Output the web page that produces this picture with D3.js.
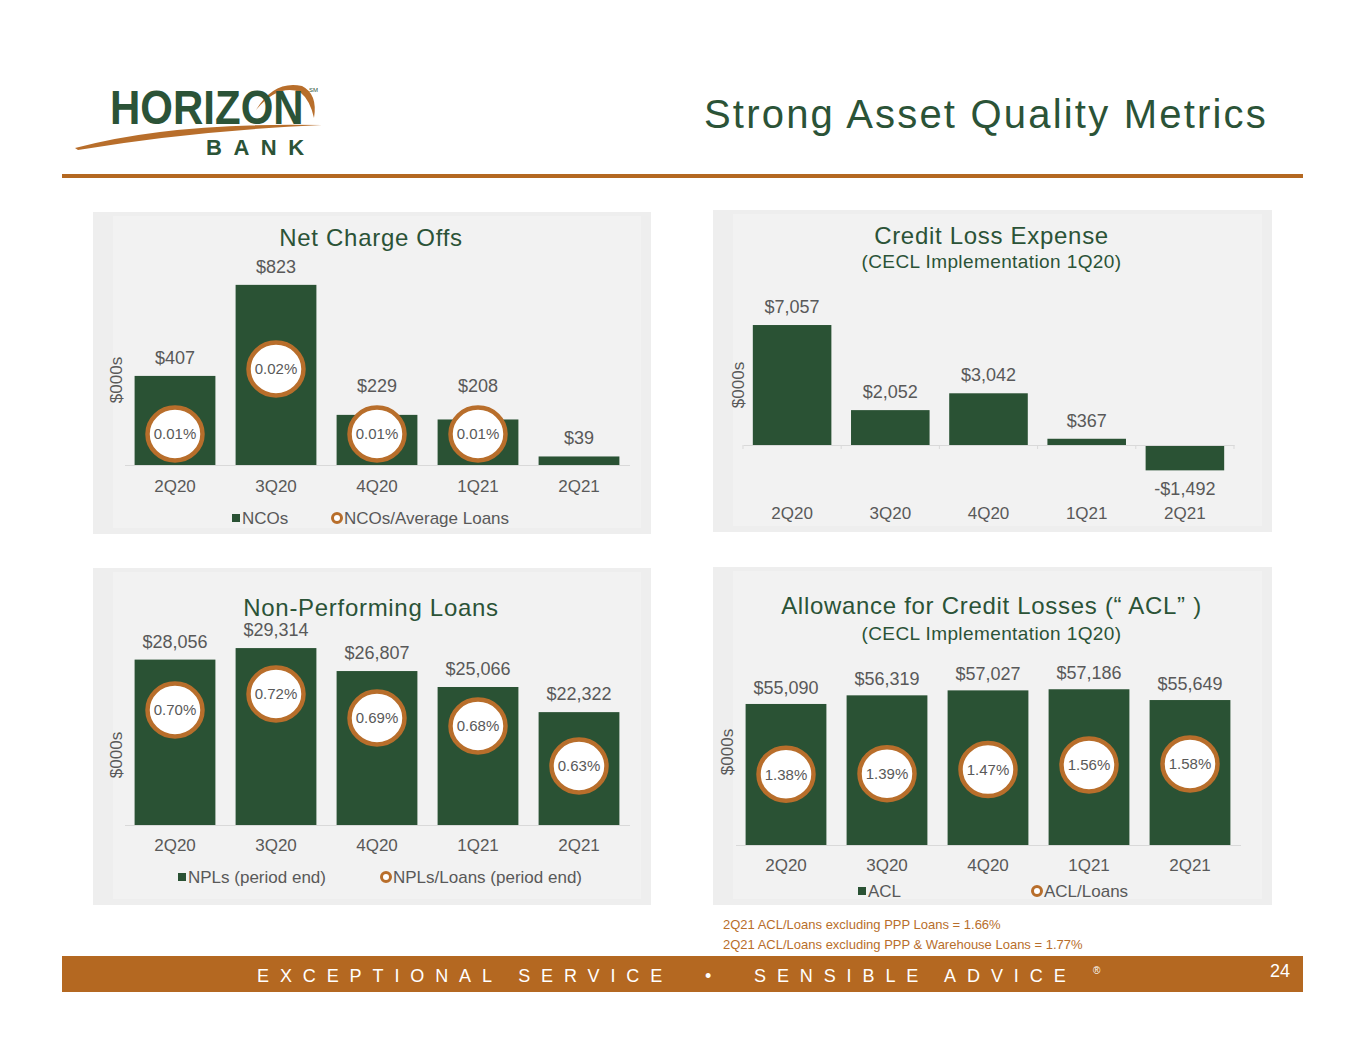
<!DOCTYPE html>
<html>
<head>
<meta charset="utf-8">
<script src="https://cdn.jsdelivr.net/npm/d3@7"></script>
<style>
  body { margin: 0; background: #fff; }
  svg { display: block; font-family: "Liberation Sans", Arial, sans-serif; }
  .axis path { stroke: #d9d9d9; }
  .axis line { stroke: #d9d9d9; }
  .axis text { fill: #595959; font-size: 17px; font-family: "Liberation Sans", Arial, sans-serif; }
</style>
</head>
<body>
<div id="slide"></div>
<script>
// ---- data ----
var quarters = ["2Q20", "3Q20", "4Q20", "1Q21", "2Q21"];

var ncoValues = [407, 823, 229, 208, 39];
var ncoRatios = [0.01, 0.02, 0.01, 0.01, null];

var cleValues = [7057, 2052, 3042, 367, -1492];

var nplValues = [28056, 29314, 26807, 25066, 22322];
var nplRatios = [0.70, 0.72, 0.69, 0.68, 0.63];

var aclValues = [55090, 56319, 57027, 57186, 55649];
var aclRatios = [1.38, 1.39, 1.47, 1.56, 1.58];

var footnotes = [
  "2Q21 ACL/Loans excluding PPP Loans = 1.66%",
  "2Q21 ACL/Loans excluding PPP & Warehouse Loans = 1.77%"
];

// ---- colours ----
var green = "#2a5234";
var titleGreen = "#2b5337";
var orange = "#b86e2b";
var band = "#b46821";
var grey = "#595959";

var W = 1365, H = 1055;
var svg = d3.select("#slide").append("svg").attr("width", W).attr("height", H);

// ---- header ----
svg.append("text")
  .attr("x", 1268).attr("y", 128)
  .attr("text-anchor", "end")
  .attr("font-size", 40)
  .attr("letter-spacing", "2.2px")
  .attr("fill", titleGreen)
  .text("Strong Asset Quality Metrics");

svg.append("rect").attr("x", 62).attr("y", 174).attr("width", 1241).attr("height", 4).attr("fill", band);

// logo
var logo = svg.append("g");
logo.append("path")
  .attr("d", "M75,148 Q170,122 322,125 Q190,131 78,150 Z")
  .attr("fill", orange);
logo.append("path")
  .attr("d", "M256,110 Q274,80 302,86 Q318,94 314,118 Q310,100 300,92 Q278,84 256,110 Z")
  .attr("fill", orange);
logo.append("text")
  .attr("transform", "translate(110,124) scale(1,1.15)")
  .attr("font-size", 42).attr("font-weight", "bold")
  .attr("fill", titleGreen)
  .text("HORIZON");
logo.append("text")
  .attr("x", 309).attr("y", 92)
  .attr("font-size", 6).attr("fill", titleGreen)
  .text("SM");
logo.append("text")
  .attr("x", 206).attr("y", 155)
  .attr("font-size", 22).attr("font-weight", "bold")
  .attr("letter-spacing", "11.5px")
  .attr("fill", titleGreen)
  .text("BANK");

// ---- footer ----
svg.append("rect").attr("x", 62).attr("y", 956).attr("width", 1241).attr("height", 36).attr("fill", band);
svg.append("text")
  .attr("x", 257).attr("y", 982)
  .attr("font-size", 18)
  .attr("letter-spacing", "10.9px")
  .attr("fill", "#fff")
  .style("white-space", "pre")
  .text("EXCEPTIONAL SERVICE  \u2022  SENSIBLE ADVICE");
svg.append("text")
  .attr("x", 1093).attr("y", 974)
  .attr("font-size", 10).attr("fill", "#fff")
  .text("\u00ae");
svg.append("text")
  .attr("x", 1290).attr("y", 977)
  .attr("text-anchor", "end")
  .attr("font-size", 18).attr("fill", "#fff")
  .text("24");

svg.selectAll("text.foot")
  .data(footnotes)
  .enter().append("text")
  .attr("class", "foot")
  .attr("x", 723)
  .attr("y", function(d, i) { return 929 + i * 20; })
  .attr("font-size", 13)
  .attr("fill", orange)
  .text(function(d) { return d; });

// ---- one panel ----
function drawPanel(o) {
  var g = svg.append("g");

  g.append("rect").attr("x", o.box[0]).attr("y", o.box[1]).attr("width", o.box[2]).attr("height", o.box[3]).attr("fill", "#eeeeee");
  g.append("rect").attr("x", o.box[0] + 20).attr("y", o.box[1] + 4).attr("width", o.box[2] - 30).attr("height", o.box[3] - 10).attr("fill", "#f2f2f2");

  var cx = o.box[0] + o.box[2] / 2 - 1;
  g.append("text")
    .attr("x", cx).attr("y", o.titleY)
    .attr("text-anchor", "middle")
    .attr("font-size", 24).attr("letter-spacing", "0.7px")
    .attr("fill", titleGreen)
    .text(o.title);
  if (o.subtitle) {
    g.append("text")
      .attr("x", cx).attr("y", o.titleY + o.subGap)
      .attr("text-anchor", "middle")
      .attr("font-size", 19).attr("letter-spacing", "0.4px")
      .attr("fill", titleGreen)
      .text(o.subtitle);
  }

  var x = d3.scaleBand().domain(quarters).range(o.xRange).paddingInner(0.2).paddingOuter(0.1);
  var y = d3.scaleLinear().domain(o.yDomain).range(o.yRange);
  var base = y(o.base);

  var rows = quarters.map(function(q, i) {
    return { q: q, v: o.values[i], r: o.ratios ? o.ratios[i] : null };
  });

  g.selectAll("rect.bar")
    .data(rows)
    .enter().append("rect")
    .attr("class", "bar")
    .attr("x", function(d) { return x(d.q); })
    .attr("width", x.bandwidth())
    .attr("y", function(d) { return Math.min(y(d.v), base); })
    .attr("height", function(d) { return Math.abs(y(d.v) - base); })
    .attr("fill", green);

  var axis = d3.axisBottom(x).tickSizeInner(o.tickLen || 0).tickSizeOuter(0);
  var ax = g.append("g")
    .attr("class", "axis")
    .attr("transform", "translate(0," + base + ")")
    .call(axis);
  ax.selectAll("text").attr("y", o.labelY - base).attr("dy", 0);
  if (o.tickLen) {
    ax.selectAll(".tick line").attr("transform", "translate(" + (-x.step() / 2) + ",0)");
    ax.append("line").attr("x1", o.xRange[1]).attr("x2", o.xRange[1]).attr("y1", 0).attr("y2", o.tickLen).attr("stroke", "#d9d9d9");
  }

  var y2 = o.ratios ? d3.scaleLinear().domain(o.y2Domain).range(o.y2Range) : null;
  var mid = function(d) { return x(d.q) + x.bandwidth() / 2; };

  g.selectAll("text.val")
    .data(rows)
    .enter().append("text")
    .attr("class", "val")
    .attr("x", mid)
    .attr("y", function(d) {
      if (d.v < 0) return y(d.v) + 25;
      var top = y(d.v);
      if (d.r != null && o.avoidRing) top = Math.min(top, y2(d.r) - 30);
      return top - o.valGap;
    })
    .attr("text-anchor", "middle")
    .attr("font-size", 18)
    .attr("fill", grey)
    .text(function(d) { return (d.v < 0 ? "-$" : "$") + d3.format(",")(Math.abs(d.v)); });

  if (y2) {
    var rings = g.selectAll("g.ring")
      .data(rows.filter(function(d) { return d.r != null; }))
      .enter().append("g")
      .attr("class", "ring")
      .attr("transform", function(d) { return "translate(" + mid(d) + "," + y2(d.r) + ")"; });
    rings.append("ellipse")
      .attr("rx", 27.5).attr("ry", 26.5)
      .attr("fill", "#fff")
      .attr("stroke", orange).attr("stroke-width", 4.5);
    rings.append("text")
      .attr("text-anchor", "middle")
      .attr("dy", "0.36em")
      .attr("font-size", 15)
      .attr("fill", grey)
      .text(function(d) { return d3.format(".2f")(d.r) + "%"; });
  }

  g.append("text")
    .attr("transform", "translate(" + o.unitPos[0] + "," + o.unitPos[1] + ") rotate(-90)")
    .attr("text-anchor", "middle")
    .attr("dy", "0.36em")
    .attr("font-size", 17)
    .attr("fill", grey)
    .text("$000s");

  if (o.legend) {
    var lg = g.append("g");
    lg.append("rect")
      .attr("x", o.legend.sq).attr("y", o.legend.y - 4)
      .attr("width", 8).attr("height", 8)
      .attr("fill", green);
    lg.append("text")
      .attr("x", o.legend.sq + 10).attr("y", o.legend.y + 6)
      .attr("font-size", 17).attr("fill", grey)
      .text(o.legend.labels[0]);
    lg.append("circle")
      .attr("cx", o.legend.ring).attr("cy", o.legend.y)
      .attr("r", 4.5)
      .attr("fill", "#fff").attr("stroke", orange).attr("stroke-width", 3);
    lg.append("text")
      .attr("x", o.legend.ring + 7).attr("y", o.legend.y + 6)
      .attr("font-size", 17).attr("fill", grey)
      .text(o.legend.labels[1]);
  }
}

drawPanel({
  box: [93, 212, 558, 322],
  title: "Net Charge Offs", titleY: 246,
  values: ncoValues, ratios: ncoRatios,
  xRange: [124.5, 629.5],
  yDomain: [0, 900], yRange: [465, 268], base: 0,
  y2Domain: [0.01, 0.02], y2Range: [434, 369],
  labelY: 492, valGap: 12, avoidRing: true,
  unitPos: [116, 380],
  legend: { y: 518, sq: 232, ring: 337, labels: ["NCOs", "NCOs/Average Loans"] }
});

drawPanel({
  box: [713, 210, 559, 322],
  title: "Credit Loss Expense", subtitle: "(CECL Implementation 1Q20)", titleY: 244, subGap: 24,
  values: cleValues, ratios: null,
  xRange: [743, 1234],
  yDomain: [-2000, 8000], yRange: [479, 309], base: 0,
  labelY: 519, valGap: 12, tickLen: 4,
  unitPos: [738, 385]
});

drawPanel({
  box: [93, 568, 558, 337],
  title: "Non-Performing Loans", titleY: 616,
  values: nplValues, ratios: nplRatios,
  xRange: [124.5, 629.5],
  yDomain: [10000, 35000], yRange: [825, 596], base: 10000,
  y2Domain: [0.60, 0.75], y2Range: [790, 670],
  labelY: 851, valGap: 12,
  unitPos: [116, 755],
  legend: { y: 877, sq: 178, ring: 386, labels: ["NPLs (period end)", "NPLs/Loans (period end)"] }
});

drawPanel({
  box: [713, 567, 559, 338],
  title: "Allowance for Credit Losses (\u201c ACL\u201d )", subtitle: "(CECL Implementation 1Q20)", titleY: 614, subGap: 26,
  values: aclValues, ratios: aclRatios,
  xRange: [735.5, 1240.5],
  yDomain: [35000, 60000], yRange: [845, 669.5], base: 35000,
  y2Domain: [0, 3], y2Range: [845, 691],
  labelY: 871, valGap: 10,
  unitPos: [727, 752],
  legend: { y: 891, sq: 858, ring: 1037, labels: ["ACL", "ACL/Loans"] }
});
</script>
</body>
</html>
